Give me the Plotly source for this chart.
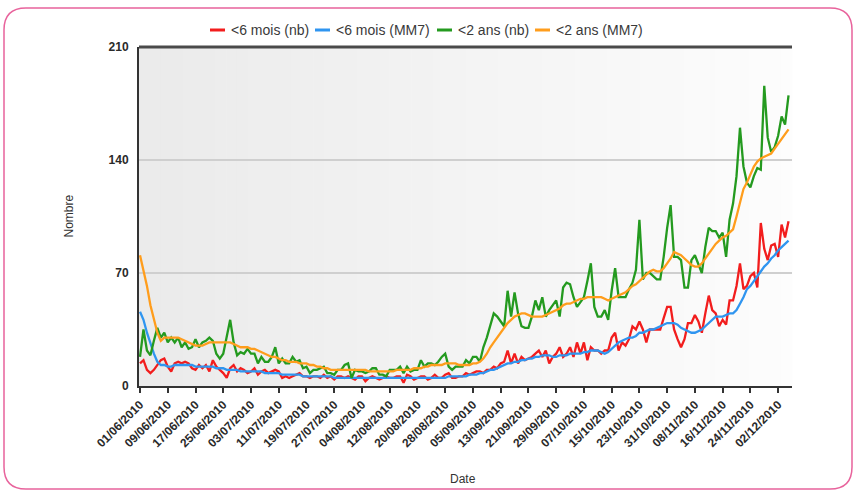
import plotly.graph_objects as go
import pandas as pd

start_date = "2010-06-01"

red_nb = [
    14, 16, 10, 8, 10, 13, 16,
    17, 12, 9, 14, 15, 14, 15,
    14, 11, 10, 13, 11, 13, 9,
    16, 12, 10, 8, 5, 11, 13,
    9, 11, 10, 8, 9, 11, 7,
    9, 10, 8, 9, 10, 9, 5,
    6, 5, 6, 7, 8, 6, 6,
    5, 6, 6, 5, 7, 5, 6,
    4, 6, 6, 5, 6, 5, 4,
    6, 6, 3, 5, 6, 5, 4,
    5, 6, 5, 5, 6, 6, 2,
    7, 6, 4, 5, 6, 6, 4,
    5, 7, 5, 5, 7, 8, 5,
    5, 6, 6, 8, 7, 8, 9,
    9, 8, 10, 10, 12, 11, 14,
    15, 22, 14, 20, 14, 18, 16,
    17, 18, 20, 22, 18, 22, 14,
    18, 20, 24, 18, 20, 24, 18,
    27, 20, 27, 16, 24, 22, 22,
    20, 22, 22, 30, 33, 22, 27,
    25, 29, 37, 35, 40, 35, 27,
    35, 35, 35, 35, 42, 49, 49,
    35, 29, 24, 29, 39, 39, 44,
    40, 33, 45, 56, 47, 45, 37,
    41, 38, 53, 53, 62, 76, 60,
    62, 68, 70, 61, 101, 85, 78,
    87, 88, 80, 100, 92, 102,
]

blue_mm7 = [
    46, 41, 33, 26, 20, 15, 13,
    13, 12, 12, 13, 13, 13, 13,
    13, 13, 12, 12, 12, 12, 12,
    12, 11, 11, 11, 10, 10, 10,
    10, 9, 9, 9, 9, 9, 9,
    9, 8, 8, 8, 8, 8, 7,
    7, 7, 7, 7, 7, 6, 6,
    6, 6, 6, 6, 6, 6, 6,
    5, 5, 5, 5, 5, 5, 5,
    5, 5, 5, 5, 5, 5, 5,
    5, 5, 5, 5, 5, 5, 5,
    5, 5, 5, 5, 5, 5, 5,
    5, 5, 5, 5, 5, 6, 6,
    6, 6, 6, 6, 7, 7, 7,
    8, 8, 9, 10, 10, 11, 12,
    13, 14, 14, 15, 15, 16, 16,
    17, 17, 18, 18, 19, 19, 19,
    18, 18, 19, 19, 19, 20, 20,
    20, 20, 21, 21, 22, 22, 22,
    21, 20, 21, 23, 25, 27, 28,
    29, 30, 30, 31, 33, 33, 34,
    35, 35, 36, 37, 38, 39, 39,
    39, 38, 36, 35, 34, 33, 33,
    34, 35, 37, 39, 41, 43, 43,
    43, 44, 45, 45, 47, 51, 55,
    60, 62, 65, 68, 71, 74, 76,
    79, 81, 84, 86, 88, 90,
]

green_nb = [
    18, 35, 22, 19, 28, 36, 30,
    33, 27, 30, 27, 30, 24, 27,
    23, 24, 29, 24, 27, 28, 30,
    28, 20, 17, 20, 30, 41, 27,
    19, 21, 20, 23, 20, 20, 14,
    18, 15, 15, 18, 24, 14, 17,
    14, 14, 18, 15, 16, 11, 12,
    8, 10, 10, 11, 12, 8, 8,
    7, 10, 10, 13, 14, 5, 10,
    9, 9, 8, 9, 11, 11, 7,
    7, 6, 10, 10, 10, 12, 8,
    12, 9, 10, 10, 16, 12, 14,
    14, 13, 15, 18, 20, 12, 10,
    12, 12, 12, 16, 14, 18, 18,
    15, 24, 30, 37, 45, 43, 40,
    37, 59, 43, 58, 45, 37, 36,
    36, 43, 53, 47, 55, 43, 47,
    50, 53, 43, 61, 64, 63, 55,
    49, 52, 55, 65, 76, 49, 43,
    43, 47, 41, 59, 73, 55, 55,
    55, 60, 64, 72, 103, 66, 70,
    70, 68, 66, 66, 80, 98, 112,
    80, 80, 78, 61, 61, 78, 81,
    75, 70, 86, 98, 96, 96, 92,
    95, 80, 103, 113, 130, 160, 136,
    126, 123, 130, 135, 134, 186, 154,
    145, 148, 155, 167, 162, 180,
]

orange_mm7 = [
    81, 72, 62, 50, 42, 33, 28,
    30, 30, 30, 30, 30, 29, 28,
    27, 26, 25, 25, 25, 26, 27,
    27, 27, 27, 27, 27, 27, 26,
    25, 24, 24, 24, 23, 23, 22,
    21, 20, 19, 18, 18, 17, 16,
    16, 15, 15, 15, 14, 14, 14,
    13, 13, 12, 12, 11, 11, 10,
    10, 10, 10, 10, 10, 10, 10,
    10, 10, 10, 9, 9, 9, 9,
    9, 9, 9, 9, 10, 10, 10,
    10, 10, 11, 11, 11, 12, 12,
    13, 13, 13, 13, 14, 14, 14,
    14, 13, 13, 13, 13, 14, 14,
    15, 17, 20, 24, 27, 30, 33,
    36, 39, 41, 43, 44, 45, 45,
    44, 43, 43, 43, 43, 44, 45,
    46, 47, 48, 50, 51, 51, 52,
    53, 54, 54, 55, 55, 55, 55,
    55, 54, 53, 54, 55, 56, 57,
    58, 60, 62, 63, 65, 67, 69,
    71, 72, 71, 71, 73, 76, 79,
    83, 82, 81, 79, 77, 75, 74,
    74, 76, 79, 82, 85, 88, 90,
    92, 93, 95, 97, 105, 113, 122,
    126, 131, 136, 139, 141, 142, 143,
    144, 147, 150, 153, 156, 159,
]

series_names = ["<6 mois (nb)", "<6 mois (MM7)", "<2 ans (nb)", "<2 ans (MM7)"]
series_colors = ["#f21d1d", "#2f95f0", "#249a1f", "#ff9d1c"]
y_ticks = [0, 70, 140, 210]

n = len(red_nb)
assert all(len(s) == n for s in (blue_mm7, green_nb, orange_mm7))
dates = pd.date_range(start_date, periods=n, freq="D")
tick_dates = pd.date_range(start_date, "2010-12-02", freq="8D")

fig = go.Figure()
for name, vals, col in zip(series_names, [red_nb, blue_mm7, green_nb, orange_mm7], series_colors):
    fig.add_trace(go.Scatter(x=dates, y=vals, mode="lines", name=name,
                             line=dict(color=col, width=2.3), showlegend=False))

W, H = 856, 490
L, R, T, B = 139, 792, 47, 386

def px(x):
    return (x - L) / (R - L)

def py(y):
    return (B - y) / (B - T)

shapes = []
annotations = []
# horizontal gradient background in plot area
nstrip = 60
for i in range(nstrip):
    t = i / (nstrip - 1)
    c = int(235 + (253 - 235) * t)
    shapes.append(dict(type="rect", xref="paper", yref="paper",
                       x0=i / nstrip, x1=(i + 1) / nstrip + 0.001, y0=0, y1=1,
                       fillcolor=f"rgb({c},{c},{c})", line=dict(width=0), layer="below"))
# top border line
shapes.append(dict(type="line", xref="paper", yref="paper", x0=0, x1=1, y0=1, y1=1,
                   line=dict(color="#4a4a4a", width=3), layer="above"))
# rounded pink card border
x0, x1, y0, y1, r = 4, 852, 8, 489, 22
path = (f"M {px(x0 + r)},{py(y0)} L {px(x1 - r)},{py(y0)} Q {px(x1)},{py(y0)} {px(x1)},{py(y0 + r)} "
        f"L {px(x1)},{py(y1 - r)} Q {px(x1)},{py(y1)} {px(x1 - r)},{py(y1)} "
        f"L {px(x0 + r)},{py(y1)} Q {px(x0)},{py(y1)} {px(x0)},{py(y1 - r)} "
        f"L {px(x0)},{py(y0 + r)} Q {px(x0)},{py(y0)} {px(x0 + r)},{py(y0)} Z")
shapes.append(dict(type="path", xref="paper", yref="paper", path=path,
                   line=dict(color="#e8639c", width=1.5), layer="below"))

# custom legend (short line symbols like the reference)
legend_sym_x = [210, 315, 437, 535]
legend_y = 30
for name, col, sx in zip(series_names, series_colors, legend_sym_x):
    shapes.append(dict(type="line", xref="paper", yref="paper",
                       x0=px(sx), x1=px(sx + 15), y0=py(legend_y), y1=py(legend_y),
                       line=dict(color=col, width=3)))
    annotations.append(dict(text=name, xref="paper", yref="paper", x=px(sx + 19), y=py(legend_y),
                            xanchor="left", yanchor="middle", showarrow=False,
                            font=dict(size=14, color="#3a3a3a")))

annotations += [
    dict(text="Nombre", xref="paper", yref="paper", x=px(68), y=0.5, showarrow=False,
         textangle=-90, font=dict(size=12, color="#333333"), xanchor="center", yanchor="middle"),
    dict(text="Date", xref="paper", yref="paper", x=px(463), y=py(479), showarrow=False,
         font=dict(size=12, color="#333333"), xanchor="center", yanchor="middle"),
]

font_family = "Liberation Sans, Arial, sans-serif"

fig.update_layout(
    width=W, height=H,
    margin=dict(l=L, r=W - R, t=T, b=H - B, autoexpand=False),
    paper_bgcolor="white", plot_bgcolor="white",
    font=dict(family=font_family, size=12, color="#333333"),
    shapes=shapes,
    annotations=annotations,
    showlegend=False,
)

fig.update_xaxes(
    type="date",
    range=["2010-05-31 17:00", "2010-12-06 00:00"],
    tickvals=list(tick_dates), ticktext=[f"<b>{d.strftime('%d/%m/%Y')}</b>" for d in tick_dates],
    tickangle=-45, tickfont=dict(size=12, color="#2a2a2a"),
    ticks="outside", ticklen=5, tickwidth=1.5, tickcolor="#333333",
    showline=True, linecolor="#333333", linewidth=2,
    showgrid=False, zeroline=False,
)
fig.update_yaxes(
    range=[0, 210], tickvals=y_ticks, ticktext=[f"<b>{v}</b>" for v in y_ticks],
    tickfont=dict(size=12, color="#2a2a2a"),
    showline=True, linecolor="#333333", linewidth=2,
    showgrid=True, gridcolor="#cfcfcf", gridwidth=2,
    zeroline=False, ticks="", ticklabelstandoff=6,
)

fig.write_html("out.html", config={"displayModeBar": False},
               post_script="document.body.style.margin='0';document.body.style.overflow='hidden';")
